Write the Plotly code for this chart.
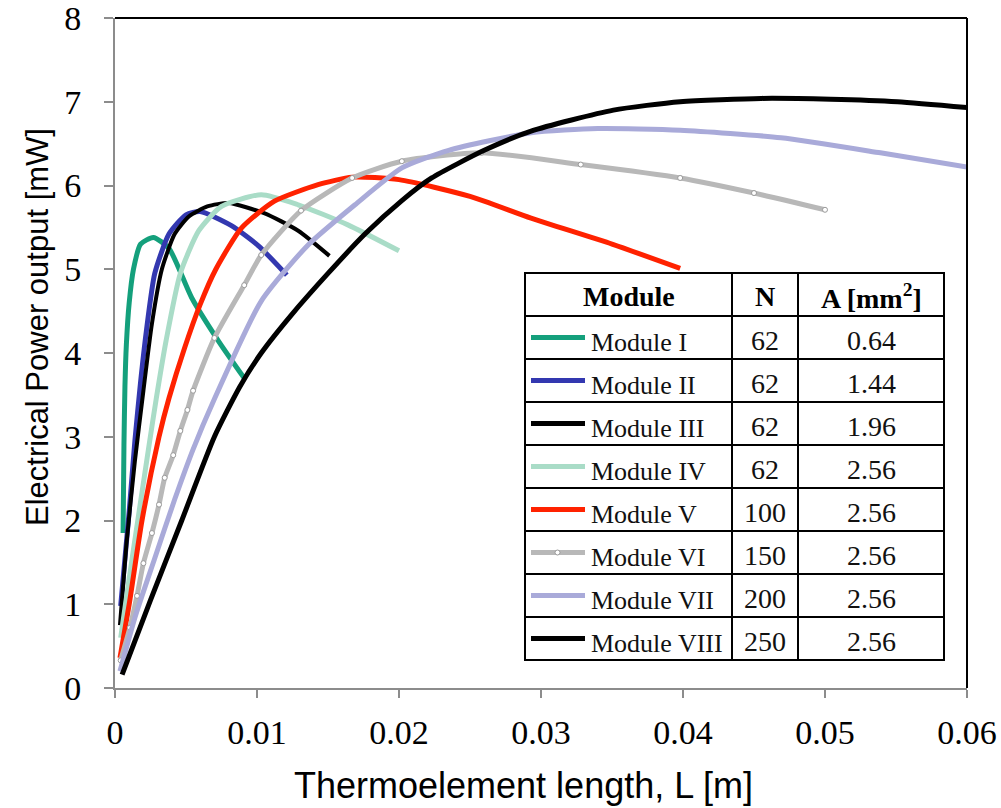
import plotly.graph_objects as go

# ---------------- data ----------------
x_I = [0.00057, 0.00063, 0.0007, 0.0008, 0.0010, 0.0013, 0.0018, 0.0027, 0.0038, 0.0054, 0.0073, 0.0091]
y_I = [1.85, 2.90, 3.60, 4.10, 4.60, 5.00, 5.30, 5.38, 5.25, 4.66, 4.14, 3.70]

x_II = [0.0004, 0.0010, 0.0014, 0.0018, 0.0022, 0.0028, 0.0038, 0.0050, 0.0060, 0.0082, 0.0101, 0.0121]
y_II = [0.98, 2.11, 2.95, 3.65, 4.25, 4.95, 5.42, 5.65, 5.69, 5.52, 5.28, 4.93]

x_III = [0.00035, 0.0008, 0.0014, 0.0020, 0.0026, 0.0033, 0.0042, 0.0052, 0.0065, 0.0080, 0.0105, 0.0129, 0.0151]
y_III = [0.75, 1.71, 2.71, 3.55, 4.35, 5.00, 5.42, 5.63, 5.75, 5.79, 5.67, 5.46, 5.16]

x_IV = [0.0004, 0.0010, 0.0017, 0.0024, 0.0029, 0.0036, 0.0046, 0.0059, 0.0075, 0.0103, 0.0129, 0.0164, 0.0200]
y_IV = [0.60, 1.31, 2.11, 2.90, 3.45, 4.15, 4.95, 5.46, 5.75, 5.89, 5.77, 5.53, 5.22]

x_V = [0.00035, 0.0010, 0.0019, 0.0031, 0.0038, 0.0049, 0.0060, 0.0071, 0.0089, 0.0112, 0.0143, 0.0167, 0.0200, 0.0250, 0.0293, 0.0350, 0.0398]
y_V = [0.36, 1.00, 2.00, 3.00, 3.46, 4.06, 4.58, 5.00, 5.49, 5.81, 6.01, 6.10, 6.07, 5.87, 5.61, 5.30, 5.01]

x_VI = [0.0004, 0.00105, 0.00155, 0.0020, 0.0026, 0.0031, 0.0035, 0.0041, 0.0046, 0.0051, 0.0055, 0.0070, 0.0091,
        0.0103, 0.0131, 0.0167, 0.0202, 0.0258, 0.0328, 0.0398, 0.0450, 0.0500]
y_VI = [0.33, 0.72, 1.10, 1.49, 1.85, 2.19, 2.51, 2.78, 3.07, 3.32, 3.55, 4.18, 4.81,
        5.17, 5.70, 6.09, 6.29, 6.39, 6.25, 6.09, 5.91, 5.71]

x_VII = [0.00035, 0.0014, 0.0028, 0.0042, 0.0055, 0.0070, 0.0103, 0.0136, 0.0169, 0.0202, 0.0235, 0.0293, 0.0340,
         0.0398, 0.0469, 0.0539, 0.0600]
y_VII = [0.20, 0.84, 1.55, 2.25, 2.85, 3.45, 4.62, 5.29, 5.77, 6.21, 6.42, 6.63, 6.68,
         6.66, 6.57, 6.39, 6.22]

x_VIII = [0.0005, 0.0025, 0.0047, 0.0070, 0.0088, 0.0103, 0.0124, 0.0150, 0.0176, 0.0202, 0.0223, 0.0260,
          0.0293, 0.0351, 0.0398, 0.0455, 0.0504, 0.0551, 0.0600]
y_VIII = [0.16, 1.05, 2.00, 3.00, 3.60, 4.00, 4.45, 4.95, 5.42, 5.82, 6.09, 6.42,
          6.65, 6.90, 7.00, 7.04, 7.03, 7.00, 6.93]

modules = ["Module I", "Module II", "Module III", "Module IV", "Module V", "Module VI", "Module VII", "Module VIII"]
n_values = ["62", "62", "62", "62", "100", "150", "200", "250"]
a_values = ["0.64", "1.44", "1.96", "2.56", "2.56", "2.56", "2.56", "2.56"]

x_ticks = [0, 0.01, 0.02, 0.03, 0.04, 0.05, 0.06]
x_ticktext = ["0", "0.01", "0.02", "0.03", "0.04", "0.05", "0.06"]
y_ticks = [0, 1, 2, 3, 4, 5, 6, 7, 8]

# ---------------- styling ----------------
series = [
    (x_I, y_I, "#14a07c", 5),
    (x_II, y_II, "#3338b0", 5),
    (x_III, y_III, "#000000", 4),
    (x_IV, y_IV, "#a9dcc7", 5),
    (x_V, y_V, "#ff2200", 5),
    (x_VI, y_VI, "#b8b8b8", 5),
    (x_VII, y_VII, "#a9aad9", 5),
    (x_VIII, y_VIII, "#000000", 5),
]

W, H = 1001, 808
# plot area in screen pixels
L_S, R_S, T_S, B_S = 115, 967, 18, 688


def px(x):
    return (x - L_S) / (R_S - L_S)


def py(y):
    return (B_S - y) / (B_S - T_S)


fig = go.Figure()
for i, (xs, ys, col, w) in enumerate(series):
    if modules[i] == "Module VI":
        fig.add_trace(go.Scatter(x=xs, y=ys, mode="lines+markers", name=modules[i],
                                 line=dict(color=col, width=w, shape="spline", smoothing=0.6),
                                 marker=dict(symbol="circle", size=5, color="white",
                                             line=dict(color="#9a9a9a", width=1))))
    else:
        fig.add_trace(go.Scatter(x=xs, y=ys, mode="lines", name=modules[i],
                                 line=dict(color=col, width=w, shape="spline", smoothing=0.6)))

serif = "Liberation Serif, Times New Roman, serif"
sans = "Liberation Sans, Arial, sans-serif"

fig.update_layout(
    width=W, height=H,
    margin=dict(l=L_S, r=W - R_S, t=T_S, b=H - B_S, autoexpand=False),
    paper_bgcolor="white", plot_bgcolor="white",
    showlegend=False,
    xaxis=dict(range=[0, 0.06], tickvals=x_ticks, ticktext=x_ticktext,
               showline=True, linecolor="#8c8c8c", linewidth=2, mirror=False,
               ticks="outside", ticklen=8, tickwidth=2, tickcolor="#8c8c8c",
               showgrid=False, zeroline=False, ticklabelstandoff=5, ticklabeloverflow="allow",
               tickfont=dict(family=serif, size=34, color="black")),
    yaxis=dict(range=[0, 8], tickvals=y_ticks,
               showline=True, linecolor="#8c8c8c", linewidth=2, mirror=False,
               ticks="outside", ticklen=9, tickwidth=2, tickcolor="#8c8c8c",
               showgrid=False, zeroline=False, ticklabelstandoff=16, ticklabeloverflow="allow",
               tickfont=dict(family=serif, size=34, color="black")),
)

shapes = []
shapes.append(dict(type="line", xref="paper", yref="paper", x0=0, x1=1, y0=1, y1=1,
                   line=dict(color="black", width=2)))
shapes.append(dict(type="line", xref="paper", yref="paper", x0=1, x1=1, y0=0, y1=1,
                   line=dict(color="black", width=2)))

# table
col_x = [525, 732, 798, 944]
row_y = [273 + 43 * k for k in range(10)]
shapes.append(dict(type="rect", xref="paper", yref="paper",
                   x0=px(col_x[0]), x1=px(col_x[-1]), y0=py(row_y[-1]), y1=py(row_y[0]),
                   fillcolor="white", line=dict(color="black", width=2)))
for yy in row_y[1:-1]:
    shapes.append(dict(type="line", xref="paper", yref="paper",
                       x0=px(col_x[0]), x1=px(col_x[-1]), y0=py(yy), y1=py(yy),
                       line=dict(color="black", width=2)))
for xx in col_x[1:-1]:
    shapes.append(dict(type="line", xref="paper", yref="paper",
                       x0=px(xx), x1=px(xx), y0=py(row_y[-1]), y1=py(row_y[0]),
                       line=dict(color="black", width=2)))

annotations = []
hdr_y = (row_y[0] + row_y[1]) / 2 + 2
for txt, cx in [("<b>Module</b>", (col_x[0] + col_x[1]) / 2),
                ("<b>N</b>", (col_x[1] + col_x[2]) / 2),
                ("<b>A [mm<sup>2</sup>]</b>", (col_x[2] + col_x[3]) / 2)]:
    annotations.append(dict(text=txt, x=px(cx), y=py(hdr_y),
                            xref="paper", yref="paper", showarrow=False, xanchor="center", yanchor="middle",
                            font=dict(family=serif, size=28, color="black")))

for i in range(8):
    rc = (row_y[i + 1] + row_y[i + 2]) / 2
    col = series[i][2]
    shapes.append(dict(type="line", xref="paper", yref="paper",
                       x0=px(531), x1=px(585), y0=py(rc), y1=py(rc),
                       line=dict(color=col, width=5)))
    if modules[i] == "Module VI":
        shapes.append(dict(type="circle", xref="paper", yref="paper",
                           x0=px(555), x1=px(560), y0=py(rc + 2.5), y1=py(rc - 2.5),
                           fillcolor="white", line=dict(color="#9a9a9a", width=1)))
    annotations.append(dict(text=modules[i], x=px(589), y=py(rc + 5),
                            xref="paper", yref="paper", showarrow=False, xanchor="left", yanchor="middle",
                            font=dict(family=serif, size=26, color="#111111")))
    annotations.append(dict(text=n_values[i], x=px((col_x[1] + col_x[2]) / 2), y=py(rc + 3),
                            xref="paper", yref="paper", showarrow=False, xanchor="center", yanchor="middle",
                            font=dict(family=serif, size=28, color="#111111")))
    annotations.append(dict(text=a_values[i], x=px((col_x[2] + col_x[3]) / 2), y=py(rc + 3),
                            xref="paper", yref="paper", showarrow=False, xanchor="center", yanchor="middle",
                            font=dict(family=serif, size=28, color="#111111")))

# axis titles
annotations.append(dict(text="Thermoelement length, L [m]", x=px(523), y=py(785),
                        xref="paper", yref="paper", showarrow=False, xanchor="center", yanchor="middle",
                        font=dict(family=sans, size=36, color="black")))
annotations.append(dict(text="Electrical Power output [mW]", x=px(37), y=py(327),
                        xref="paper", yref="paper", showarrow=False, xanchor="center", yanchor="middle",
                        textangle=-90, font=dict(family=sans, size=31, color="black")))

fig.update_layout(shapes=shapes, annotations=annotations)
fig.write_html("out.html", config={"displayModeBar": False},
               post_script="document.body.style.margin='0';")
